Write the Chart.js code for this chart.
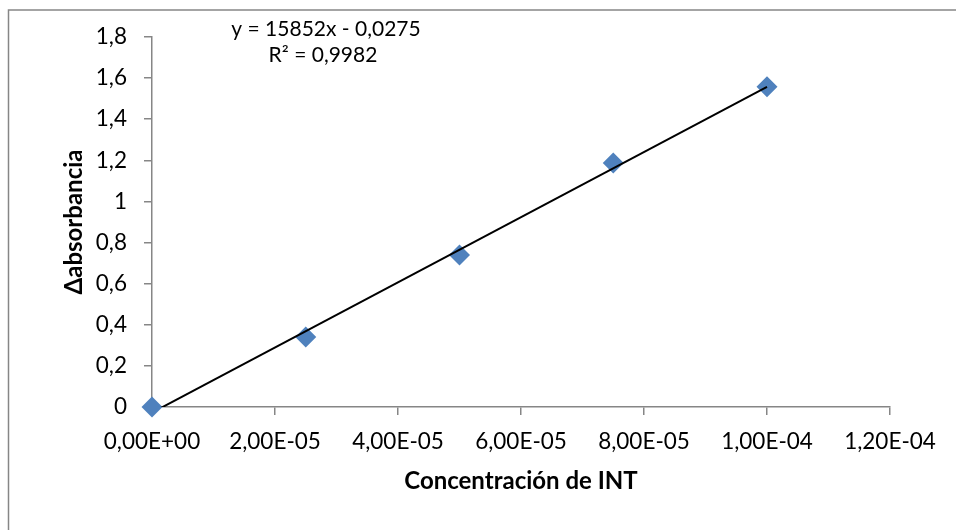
<!DOCTYPE html>
<html>
<head>
<meta charset="utf-8">
<script src="https://cdn.jsdelivr.net/npm/chart.js@4"></script>
<style>
  html, body { margin: 0; padding: 0; background: #ffffff; }
  #wrap { position: relative; width: 956px; height: 530px; }
</style>
</head>
<body>
<div id="wrap"><canvas id="chart" width="956" height="530"></canvas></div>
<script>
// Calibration: INT concentration vs. change in absorbance
const concentrations = [0, 2.5e-5, 5e-5, 7.5e-5, 1e-4];
const deltaAbsorbance = [0, 0.34, 0.74, 1.187, 1.558];

// Linear fit reported for the series
const slope = 15852;
const intercept = -0.0275;
const rSquared = 0.9982;

// Axis ticks
const xTickValues = [0, 2e-5, 4e-5, 6e-5, 8e-5, 1e-4, 1.2e-4];
const xTickLabels = ['0,00E+00', '2,00E-05', '4,00E-05', '6,00E-05', '8,00E-05', '1,00E-04', '1,20E-04'];
const yTickValues = [0, 0.2, 0.4, 0.6, 0.8, 1, 1.2, 1.4, 1.6, 1.8];
const yTickLabels = ['0', '0,2', '0,4', '0,6', '0,8', '1', '1,2', '1,4', '1,6', '1,8'];

const FONT = 'Lato, "Open Sans", sans-serif';
const AXIS_GRAY = '#868686';

const comma = v => String(v).replace('.', ',');
const fitLabel = [
  'y = ' + slope + 'x ' + (intercept < 0 ? '- ' : '+ ') + comma(Math.abs(intercept)),
  'R\u00B2 = ' + comma(rSquared)
];

// Trendline endpoints over the data range
const xFirst = concentrations[0];
const xLast = concentrations[concentrations.length - 1];
const trendPoints = [
  { x: xFirst, y: slope * xFirst + intercept },
  { x: xLast, y: slope * xLast + intercept }
];

const framePlugin = {
  id: 'frame',
  afterDraw(chart) {
    const ctx = chart.ctx;
    ctx.save();
    ctx.strokeStyle = AXIS_GRAY;
    ctx.lineWidth = 1.5;
    ctx.beginPath();
    ctx.moveTo(8.5, chart.height + 2);
    ctx.lineTo(8.5, 10);
    ctx.lineTo(chart.width + 2, 10);
    ctx.stroke();
    ctx.restore();
  }
};

const fitLabelPlugin = {
  id: 'fitLabel',
  afterDatasetsDraw(chart) {
    const ctx = chart.ctx;
    ctx.save();
    ctx.fillStyle = '#000000';
    ctx.font = '21px ' + FONT;
    ctx.textAlign = 'center';
    ctx.textBaseline = 'middle';
    ctx.fillText(fitLabel[0], 326, 29);
    ctx.fillText(fitLabel[1], 323, 55);
    ctx.restore();
  }
};

new Chart(document.getElementById('chart'), {
  type: 'scatter',
  data: {
    datasets: [
      {
        type: 'line',
        label: 'Lineal',
        data: trendPoints,
        borderColor: '#000000',
        borderWidth: 2,
        pointRadius: 0,
        fill: false,
        clip: 0,
        order: 0
      },
      {
        label: 'Δabsorbancia',
        data: concentrations.map((c, i) => ({ x: c, y: deltaAbsorbance[i] })),
        pointStyle: 'rectRot',
        pointRadius: 10.5,
        pointHoverRadius: 10.5,
        backgroundColor: '#4F81BD',
        borderColor: '#4F81BD',
        borderWidth: 0,
        clip: false,
        order: 1
      }
    ]
  },
  options: {
    responsive: false,
    animation: false,
    layout: { padding: { left: 0, top: 37, right: 66, bottom: 0 } },
    plugins: {
      legend: { display: false },
      tooltip: { enabled: false }
    },
    scales: {
      x: {
        type: 'linear',
        min: 0,
        max: 1.2e-4,
        afterBuildTicks: s => { s.ticks = xTickValues.map(v => ({ value: v })); },
        afterFit: s => { s.height = 123; },
        grid: { drawOnChartArea: false, tickLength: 8, color: AXIS_GRAY, lineWidth: 1.5 },
        border: { color: AXIS_GRAY, width: 1.5 },
        ticks: {
          color: '#000000',
          font: { family: FONT, size: 22.5 },
          padding: 13,
          maxRotation: 0,
          callback: (v, i) => xTickLabels[i]
        },
        title: {
          display: true,
          text: 'Concentración de INT',
          color: '#000000',
          font: { family: FONT, size: 24, weight: 'bold' },
          padding: { top: 0, bottom: 34 }
        }
      },
      y: {
        min: 0,
        max: 1.8,
        afterBuildTicks: s => { s.ticks = yTickValues.map(v => ({ value: v })); },
        afterFit: s => { s.width = 152; },
        grid: { drawOnChartArea: false, tickLength: 8, color: AXIS_GRAY, lineWidth: 1.5 },
        border: { color: AXIS_GRAY, width: 1.5 },
        ticks: {
          color: '#000000',
          font: { family: FONT, size: 22.5 },
          padding: 17,
          callback: (v, i) => yTickLabels[i]
        },
        title: {
          display: true,
          text: 'Δabsorbancia',
          color: '#000000',
          font: { family: FONT, size: 24, weight: 'bold' },
          padding: { top: 60, bottom: 0 }
        }
      }
    }
  },
  plugins: [framePlugin, fitLabelPlugin]
});
</script>
</body>
</html>
